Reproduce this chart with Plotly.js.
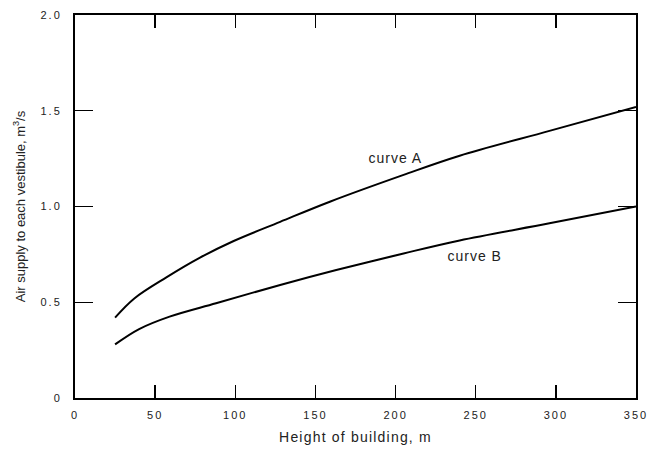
<!DOCTYPE html>
<html>
<head>
<meta charset="utf-8">
<script src="https://cdn.plot.ly/plotly-3.0.1.min.js"></script>
<style>
html,body{margin:0;padding:0;background:#fff;}
#chart{width:649px;height:450px;}
#chart .xtick text, #chart .ytick text {letter-spacing:2px;}
#chart .g-xtitle text {letter-spacing:1.2px;}
#chart .annotation-text {letter-spacing:1px;}
</style>
</head>
<body>
<div id="chart"></div>
<script>
const curveAx = [25, 37, 57, 78, 99, 128, 159, 205, 240, 296, 350];
const curveAy = [0.42, 0.52, 0.63, 0.733, 0.82, 0.92, 1.025, 1.165, 1.265, 1.395, 1.52];
const curveBx = [25, 40, 59, 88, 128, 163, 205, 240, 296, 350];
const curveBy = [0.28, 0.36, 0.425, 0.495, 0.59, 0.668, 0.755, 0.823, 0.912, 1.0];
const xTicks = [0, 50, 100, 150, 200, 250, 300, 350];
const xTickText = ['0', '50', '100', '150', '200', '250', '300', '350'];
const yTicks = [0, 0.5, 1.0, 1.5, 2.0];
const yTickText = ['0', '0.5', '1.0', '1.5', '2.0'];
const labels = [{text: 'curve A', x: 200, y: 1.253}, {text: 'curve B', x: 249, y: 0.742}];

const lineStyle = {color: '#000', width: 2, shape: 'spline', smoothing: 1};
const traces = [
  {x: curveAx, y: curveAy, mode: 'lines', line: lineStyle, name: 'curve A', hoverinfo: 'skip'},
  {x: curveBx, y: curveBy, mode: 'lines', line: lineStyle, name: 'curve B', hoverinfo: 'skip'}
];
const fam = 'Liberation Sans, Arial, sans-serif';
const font = {family: fam, size: 11, color: '#222'};

const layout = {
  width: 649, height: 450,
  margin: {l: 75, r: 13, t: 15, b: 52},
  paper_bgcolor: '#fff', plot_bgcolor: '#fff',
  showlegend: false,
  font: font,
  xaxis: {
    range: [0, 350], tickmode: 'array', tickvals: xTicks, ticktext: xTickText,
    ticks: 'inside', ticklen: 13, tickwidth: 1.3, tickcolor: '#000',
    showline: true, linecolor: '#000', linewidth: 2, mirror: 'ticks',
    showgrid: false, zeroline: false, layer: 'above traces',
    ticklabelstandoff: 6,
    tickfont: {family: fam, size: 11, color: '#222'},
    title: {text: 'Height of building, m', font: {family: fam, size: 14, color: '#222'}, standoff: 12}
  },
  yaxis: {
    range: [0, 2.0], tickmode: 'array', tickvals: yTicks, ticktext: yTickText,
    ticks: 'inside', ticklen: 18, tickwidth: 1.3, tickcolor: '#000',
    showline: true, linecolor: '#000', linewidth: 2, mirror: 'ticks',
    showgrid: false, zeroline: false, layer: 'above traces',
    ticklabelstandoff: 9,
    tickfont: {family: fam, size: 11, color: '#222'},
    title: {text: 'Air supply to each vestibule, m<sup>3</sup>/s', font: {family: fam, size: 13, color: '#222'}, standoff: 18}
  },
  annotations: labels.map(l => ({
    x: l.x, y: l.y, xref: 'x', yref: 'y', text: l.text, showarrow: false,
    font: {family: fam, size: 14, color: '#222'}
  }))
};
Plotly.newPlot('chart', traces, layout, {staticPlot: true});
</script>
</body>
</html>
